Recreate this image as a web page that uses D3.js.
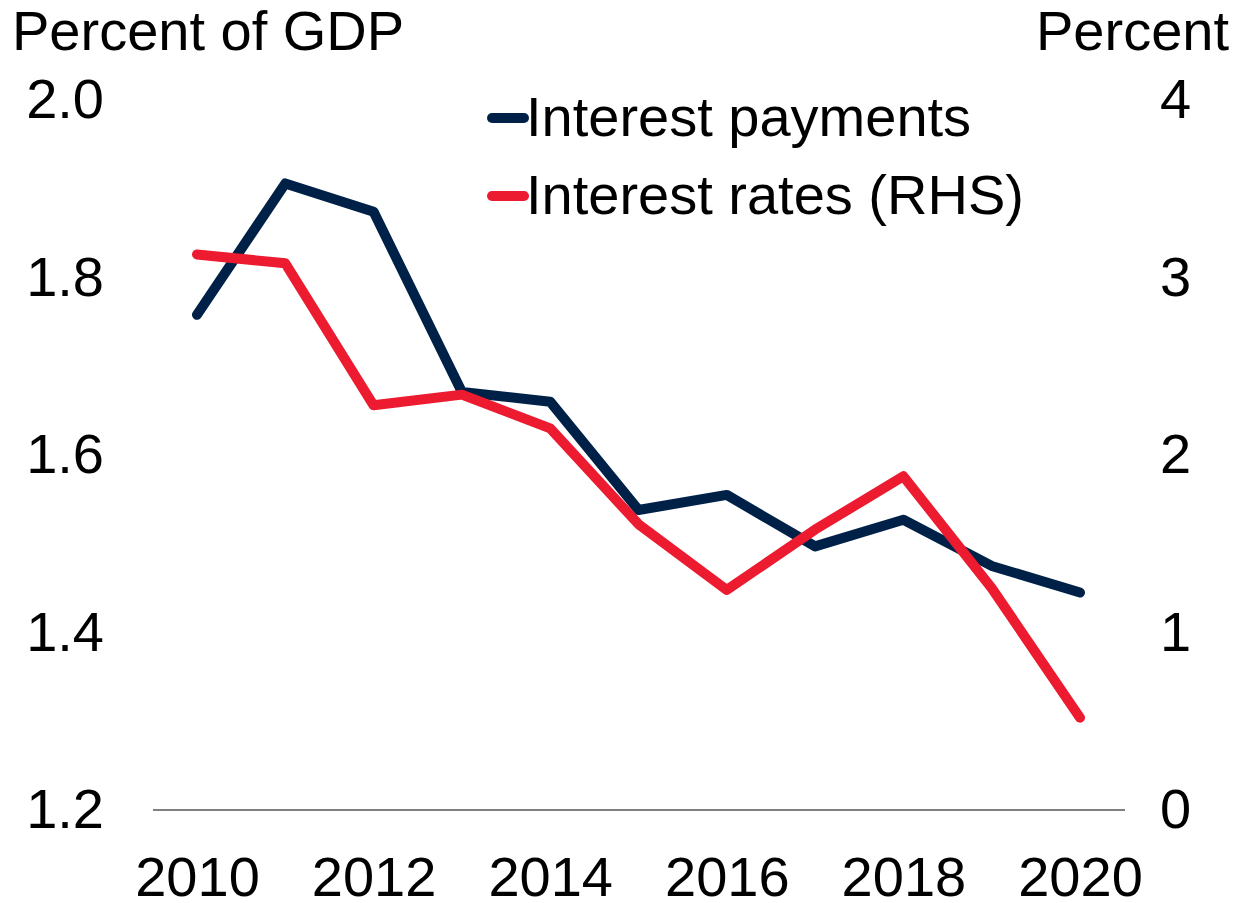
<!DOCTYPE html>
<html>
<head>
<meta charset="utf-8">
<script src="https://cdn.jsdelivr.net/npm/d3@7"></script>
<style>
  body { margin: 0; background: #fff; }
  text { font-family: "Liberation Sans", Arial, sans-serif; fill: #000; }
  .line { fill: none; stroke-width: 10; stroke-linejoin: round; stroke-linecap: round; }
</style>
</head>
<body>
<div id="chart"></div>
<script>
// data
var years = [2010, 2011, 2012, 2013, 2014, 2015, 2016, 2017, 2018, 2019, 2020]
var payments = [1.758, 1.906, 1.874, 1.671, 1.660, 1.538, 1.555, 1.497, 1.527, 1.475, 1.445]
var rates = [3.13, 3.08, 2.28, 2.34, 2.15, 1.61, 1.24, 1.58, 1.88, 1.25, 0.52]
var xTicks = [2010, 2012, 2014, 2016, 2018, 2020]
var leftTicks = [1.2, 1.4, 1.6, 1.8, 2.0]
var rightTicks = [0, 1, 2, 3, 4]
var seriesNames = ["Interest payments", "Interest rates (RHS)"]
var colors = ["#002147", "#ED1B2F"]

var width = 1236, height = 903
var fs = 56

var svg = d3.select("#chart").append("svg")
  .attr("width", width)
  .attr("height", height)

var x = d3.scaleLinear().domain([2010, 2020]).range([197, 1080])
var yL = d3.scaleLinear().domain([1.2, 2.0]).range([810, 100])
var yR = d3.scaleLinear().domain([0, 4]).range([810, 100])

// baseline
svg.append("line")
  .attr("x1", 153).attr("x2", 1125)
  .attr("y1", yL(1.2)).attr("y2", yL(1.2))
  .attr("stroke", "#808080")
  .attr("stroke-width", 2)

// left axis
var gL = svg.append("g")
  .attr("transform", "translate(104,0)")
  .call(d3.axisLeft(yL).tickValues(leftTicks).tickSize(0).tickPadding(0).tickFormat(d3.format(".1f")))
gL.select(".domain").remove()
gL.selectAll("text").style("font-size", fs + "px").attr("fill", "#000")

// right axis
var gR = svg.append("g")
  .attr("transform", "translate(1160,0)")
  .call(d3.axisRight(yR).tickValues(rightTicks).tickSize(0).tickPadding(0).tickFormat(d3.format("d")))
gR.select(".domain").remove()
gR.selectAll("text").style("font-size", fs + "px").attr("fill", "#000")

// x axis
var gX = svg.append("g")
  .attr("transform", "translate(0," + yL(1.2) + ")")
  .call(d3.axisBottom(x).tickValues(xTicks).tickSize(0).tickPadding(46).tickFormat(d3.format("d")))
gX.select(".domain").remove()
gX.selectAll("text").style("font-size", fs + "px").attr("fill", "#000")

// axis titles
svg.append("text")
  .attr("x", 12).attr("y", 50)
  .style("font-size", fs + "px")
  .text("Percent of GDP")
svg.append("text")
  .attr("x", 1229).attr("y", 50)
  .attr("text-anchor", "end")
  .style("font-size", fs + "px")
  .text("Percent")

// lines
var lineL = d3.line()
  .x(function(d, i) { return x(years[i]) })
  .y(function(d) { return yL(d) })
var lineR = d3.line()
  .x(function(d, i) { return x(years[i]) })
  .y(function(d) { return yR(d) })

svg.append("path")
  .datum(payments)
  .attr("class", "line")
  .attr("stroke", colors[0])
  .attr("d", lineL)

svg.append("path")
  .datum(rates)
  .attr("class", "line")
  .attr("stroke", colors[1])
  .attr("d", lineR)

// legend
seriesNames.forEach(function(name, i) {
  var ly = 118 + i * 78
  svg.append("line")
    .attr("x1", 492).attr("x2", 524)
    .attr("y1", ly).attr("y2", ly)
    .attr("stroke", colors[i])
    .attr("stroke-width", 10)
    .attr("stroke-linecap", "round")
  svg.append("text")
    .attr("x", 526).attr("y", ly + 18)
    .style("font-size", fs + "px")
    .text(name)
})
</script>
</body>
</html>
